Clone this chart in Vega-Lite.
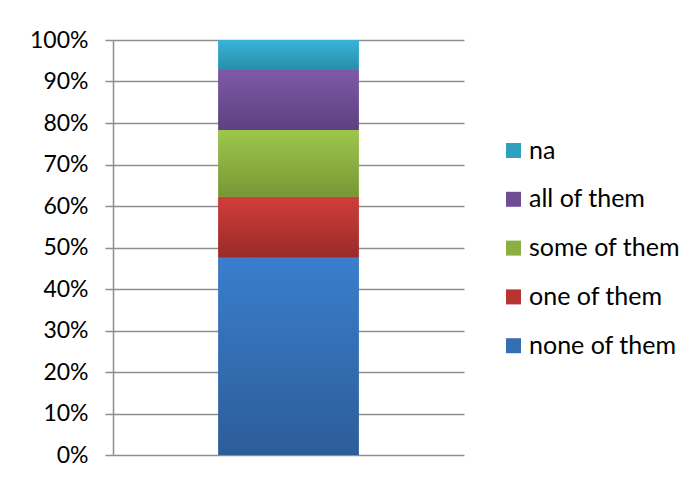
{
  "$schema": "https://vega.github.io/schema/vega-lite/v6.json",
  "width": 351,
  "height": 415,
  "autosize": {"type": "none"},
  "padding": {"left": 113, "top": 40, "right": 233, "bottom": 23},
  "background": "white",
  "config": {
    "view": {"stroke": null},
    "font": "Lato"
  },
  "data": {
    "values": [
      {"group": "A", "answer": "none of them", "pct": 0.476, "rank": 1},
      {"group": "A", "answer": "one of them", "pct": 0.146, "rank": 2},
      {"group": "A", "answer": "some of them", "pct": 0.161, "rank": 3},
      {"group": "A", "answer": "all of them", "pct": 0.145, "rank": 4},
      {"group": "A", "answer": "na", "pct": 0.072, "rank": 5}
    ]
  },
  "encoding": {
    "x": {
      "field": "group",
      "type": "nominal",
      "axis": null,
      "scale": {"paddingInner": 0, "paddingOuter": 0.75}
    },
    "y": {
      "field": "pct",
      "type": "quantitative",
      "stack": "zero",
      "scale": {"domain": [0, 1], "nice": false},
      "axis": {
        "values": [0, 0.1, 0.2, 0.3, 0.4, 0.5, 0.6, 0.7, 0.8, 0.9, 1],
        "format": ".0%",
        "title": null,
        "grid": true,
        "gridColor": "#8E8E8E",
        "gridWidth": 1.5,
        "domainColor": "#8E8E8E",
        "domainWidth": 1.5,
        "tickColor": "#8E8E8E",
        "tickWidth": 1.5,
        "tickSize": 8,
        "labelFontSize": 23,
        "labelColor": "#000000",
        "labelPadding": 17
      }
    },
    "order": {"field": "rank", "type": "quantitative", "sort": "ascending"}
  },
  "layer": [
    {
      "mark": {"type": "bar"},
      "encoding": {
        "color": {
          "field": "answer",
          "type": "nominal",
          "sort": ["na", "all of them", "some of them", "one of them", "none of them"],
          "scale": {
            "domain": ["na", "all of them", "some of them", "one of them", "none of them"],
            "range": ["#30A0C0", "#6E4D94", "#8BAF42", "#B83431", "#346EB3"]
          },
          "legend": {
            "title": null,
            "orient": "none",
            "legendX": 388,
            "legendY": 98,
            "symbolType": "square",
            "symbolSize": 225,
            "symbolStrokeWidth": 0,
            "symbolOpacity": 1,
            "labelFontSize": 25,
            "labelColor": "#000000",
            "labelOffset": 3,
            "rowPadding": 22.8,
            "labelLimit": 300
          }
        }
      }
    },
    {
      "mark": {"type": "bar"},
      "encoding": {
        "color": {
          "condition": [
            {"test": "datum.answer === 'na'", "value": {"gradient": "linear", "x1": 0, "y1": 0, "x2": 0, "y2": 1, "stops": [{"offset": 0, "color": "#37B4D9"}, {"offset": 1, "color": "#2A8CA8"}]}},
            {"test": "datum.answer === 'all of them'", "value": {"gradient": "linear", "x1": 0, "y1": 0, "x2": 0, "y2": 1, "stops": [{"offset": 0, "color": "#7F59A9"}, {"offset": 1, "color": "#5D417E"}]}},
            {"test": "datum.answer === 'some of them'", "value": {"gradient": "linear", "x1": 0, "y1": 0, "x2": 0, "y2": 1, "stops": [{"offset": 0, "color": "#9EC64C"}, {"offset": 1, "color": "#779736"}]}},
            {"test": "datum.answer === 'one of them'", "value": {"gradient": "linear", "x1": 0, "y1": 0, "x2": 0, "y2": 1, "stops": [{"offset": 0, "color": "#D03E3A"}, {"offset": 1, "color": "#9A2A28"}]}}
          ],
          "value": {"gradient": "linear", "x1": 0, "y1": 0, "x2": 0, "y2": 1, "stops": [{"offset": 0, "color": "#3A7ECD"}, {"offset": 1, "color": "#2D5D98"}]}
        }
      }
    }
  ]
}
